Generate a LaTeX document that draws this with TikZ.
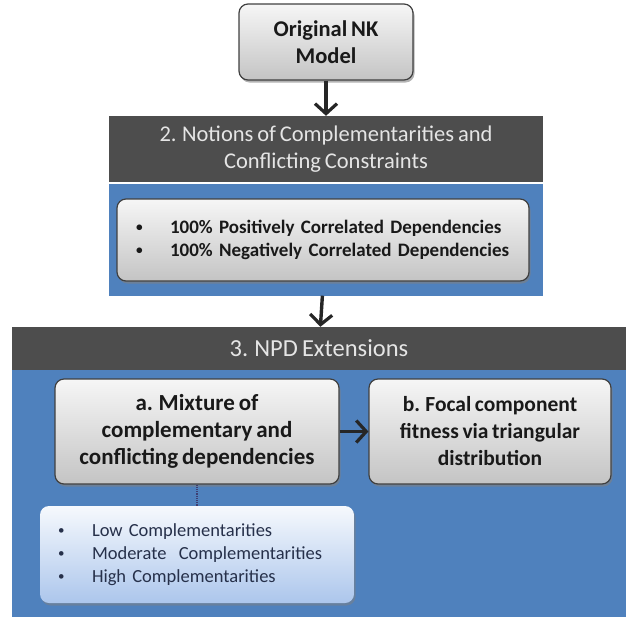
\documentclass[tikz,border=0pt]{standalone}
\usepackage{fontspec}
\setmainfont{Carlito}[WordSpace=0.75]
\usetikzlibrary{arrows.meta}
\usetikzlibrary{shadows}
\definecolor{hdrgray}{RGB}{77,77,77}
\definecolor{pnlblue}{RGB}{79,129,189}
\definecolor{boxtop}{RGB}{246,246,246}
\definecolor{boxbot}{RGB}{196,196,196}
\definecolor{lsttop}{RGB}{246,249,253}
\definecolor{lstbot}{RGB}{172,198,236}
\definecolor{lsttext}{RGB}{38,48,74}
\tikzset{flow/.style = {line width=3.4pt, draw=black!85,
                        -{Straight Barb[length=10pt, width=22pt, line width=3.2pt]}}}
\tikzset{
hdr/.style = {fill=hdrgray, text=white!90!black, inner sep=0pt, align=center},
pnl/.style = {fill=pnlblue, inner sep=0pt},
graybox/.style = {rounded corners=9pt, draw=black!75, line width=1.2pt,
                  top color=boxtop, bottom color=boxbot, inner sep=0pt,
                  align=center, text=black!90,
                  drop shadow={shadow xshift=1.5pt, shadow yshift=-2.5pt, opacity=.6}},
lstbox/.style = {rounded corners=9pt, top color=lsttop, bottom color=lstbot,
                 inner sep=0pt, align=left, text=lsttext,
                 drop shadow={shadow xshift=1.5pt, shadow yshift=-2.5pt, opacity=.5}},
}
\newcommand{\bul}{\makebox[34pt][l]{\raisebox{.1em}{\scalebox{.7}{\textbullet}}}}
\begin{document}
\begin{tikzpicture}[x=1pt, y=-1pt]
		\useasboundingbox (0,0) rectangle (626,619);
		% step 1
		\node [graybox, minimum width=174pt, minimum height=76pt,
		       font=\bfseries\fontsize{22.5}{27}\selectfont] (orig) at (326,42)
		      {Original NK\\Model};
		% step 2
		\node [hdr, minimum width=434pt, minimum height=66pt,
		       font=\fontsize{22.5}{27}\selectfont] (hdr2) at (326,149)
		      {2. Notions of Complementarities and\\Conflicting Constraints};
		\node [pnl, minimum width=434pt, minimum height=112pt] (pnl2) at (326,239.5) {};
		\node [graybox, align=left, minimum width=412pt, minimum height=82pt,
		       text width=374pt, font=\bfseries\fontsize{19}{23}\selectfont] (lst2) at (323,240)
		      {\bul 100\% Positively Correlated Dependencies\\
		       \bul 100\% Negatively Correlated Dependencies};
		% step 3
		\node [hdr, minimum width=614pt, minimum height=43pt,
		       font=\fontsize{24.5}{27}\selectfont] (hdr3) at (319,348.5)
		      {3. NPD Extensions};
		\node [pnl, minimum width=614pt, minimum height=247pt] (pnl3) at (319,493.5) {};
		\node [graybox, minimum width=284pt, minimum height=105pt,
		       font=\bfseries\fontsize{23}{27}\selectfont] (mix) at (197,431.5)
		      {a. Mixture of\\complementary and\\conflicting dependencies};
		\node [graybox, minimum width=242pt, minimum height=105pt,
		       font=\bfseries\fontsize{21.5}{27}\selectfont] (focal) at (490,431.5)
		      {b. Focal component\\fitness via triangular\\distribution};
		\node [lstbox, minimum width=314pt, minimum height=97pt, text width=278pt,
		       font=\fontsize{18.5}{23}\selectfont] (lvl) at (197,554.5)
		      {\bul Low Complementarities\\
		       \bul Moderate\ \ Complementarities\\
		       \bul High Complementarities};
		% connectors
		\draw [flow] (orig) to (hdr2);
		\draw [flow] (pnl2) to (hdr3);
		\draw [flow] (mix) to (focal);
		\draw [densely dotted, line width=1.2pt, draw=hdrgray!80!blue] (mix.south -| lvl.north) to (lvl.north);
\end{tikzpicture}
\end{document}
